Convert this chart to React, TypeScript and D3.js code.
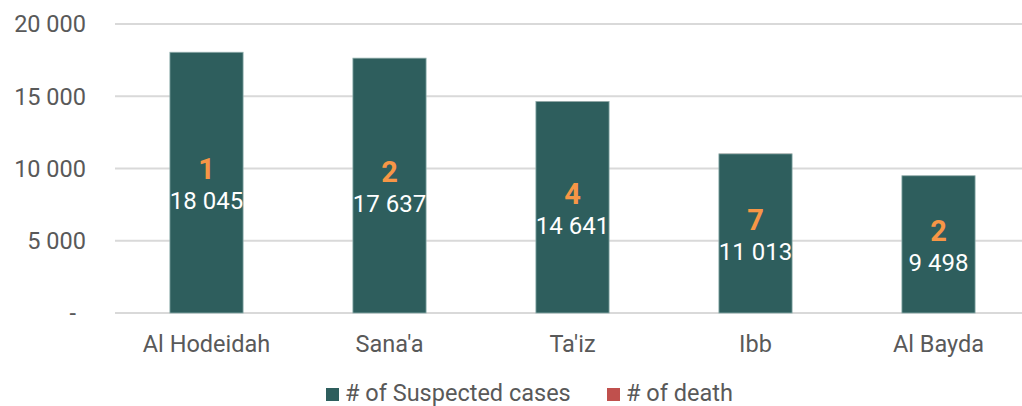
import React, { useEffect, useRef } from 'react';
import * as d3 from 'd3';

const governorates = ['Al Hodeidah', "Sana'a", "Ta'iz", 'Ibb', 'Al Bayda'];
const suspectedCases = [18045, 17637, 14641, 11013, 9498];
const deaths = [1, 2, 4, 7, 2];
const yTicks = [0, 5000, 10000, 15000, 20000];

const fmt = (v: number) => (v === 0 ? '-' : d3.format(',')(v).replace(/,/g, ' '));

const App: React.FC = () => {
  const svgRef = useRef<SVGSVGElement>(null);

  useEffect(() => {
    if (!svgRef.current) return;
    const width = 1022;
    const height = 406;
    const left = 115;
    const top = 24;
    const bottom = 313;

    const svg = d3.select(svgRef.current);
    svg.selectAll('*').remove();
    svg.attr('width', width).attr('height', height);

    const font = 'Roboto, sans-serif';
    const grey = '#595959';

    const x = d3.scaleBand<string>()
      .domain(governorates)
      .range([left, 1030])
      .paddingInner(0.6)
      .paddingOuter(0.3);
    const y = d3.scaleLinear().domain([0, 20000]).range([bottom, top]);

    // Gridlines
    svg.append('g')
      .selectAll('line')
      .data(yTicks)
      .join('line')
      .attr('x1', left)
      .attr('x2', width)
      .attr('y1', d => y(d))
      .attr('y2', d => y(d))
      .attr('stroke', '#d9d9d9')
      .attr('stroke-width', 2);

    // Y tick labels
    svg.append('g')
      .selectAll('text')
      .data(yTicks)
      .join('text')
      .attr('x', d => (d === 0 ? 76 : 86))
      .attr('y', d => y(d))
      .attr('dy', '0.36em')
      .attr('text-anchor', 'end')
      .style('font-family', font)
      .style('font-size', '23.5px')
      .style('fill', grey)
      .text(d => fmt(d));

    // Suspected cases bars
    svg.append('g')
      .selectAll('rect')
      .data(governorates)
      .join('rect')
      .attr('x', d => x(d)!)
      .attr('width', x.bandwidth())
      .attr('y', (_, i) => y(suspectedCases[i]))
      .attr('height', (_, i) => y(0) - y(suspectedCases[i]))
      .attr('fill', '#2e5e5d')
      .attr('stroke', '#8fb0ae')
      .attr('stroke-width', 0.8);

    // Deaths stacked on top
    svg.append('g')
      .selectAll('rect')
      .data(governorates)
      .join('rect')
      .attr('x', d => x(d)!)
      .attr('width', x.bandwidth())
      .attr('y', (_, i) => y(suspectedCases[i] + deaths[i]))
      .attr('height', (_, i) => y(suspectedCases[i]) - y(suspectedCases[i] + deaths[i]))
      .attr('fill', '#c0504d');

    // Labels
    const labels = svg.append('g')
      .selectAll('g')
      .data(governorates)
      .join('g')
      .attr('transform', (d, i) => {
        const cx = x(d)! + x.bandwidth() / 2;
        const mid = (y(suspectedCases[i]) + y(0)) / 2;
        return `translate(${cx},${mid})`;
      });

    labels.append('text')
      .attr('y', -14)
      .attr('dy', '0.36em')
      .attr('text-anchor', 'middle')
      .style('font-family', font)
      .style('font-size', '29px')
      .style('font-weight', 'bold')
      .style('fill', '#f79646')
      .text((_, i) => deaths[i]);

    labels.append('text')
      .attr('y', 18)
      .attr('dy', '0.36em')
      .attr('text-anchor', 'middle')
      .style('font-family', font)
      .style('font-size', '24px')
      .style('fill', '#ffffff')
      .text((_, i) => fmt(suspectedCases[i]));

    // Category labels
    svg.append('g')
      .selectAll('text')
      .data(governorates)
      .join('text')
      .attr('x', d => x(d)! + x.bandwidth() / 2)
      .attr('y', 352)
      .attr('text-anchor', 'middle')
      .style('font-family', font)
      .style('font-size', '23.5px')
      .style('fill', grey)
      .text(d => d);

    // Legend
    const legendItems = [
      { label: '# of Suspected cases', color: '#2e5e5d', x: 326 },
      { label: '# of death', color: '#c0504d', x: 607 },
    ];
    const legend = svg.append('g')
      .selectAll('g')
      .data(legendItems)
      .join('g')
      .attr('transform', d => `translate(${d.x},388)`);
    legend.append('rect')
      .attr('width', 13)
      .attr('height', 13)
      .attr('fill', d => d.color);
    legend.append('text')
      .attr('x', 19)
      .attr('y', 13)
      .style('font-family', font)
      .style('font-size', '23.5px')
      .style('fill', grey)
      .text(d => d.label);
  }, []);

  return (
    <div style={{ position: 'absolute', left: 0, top: 0 }}>
      <svg ref={svgRef} style={{ display: 'block' }}></svg>
    </div>
  );
};

export default App;
